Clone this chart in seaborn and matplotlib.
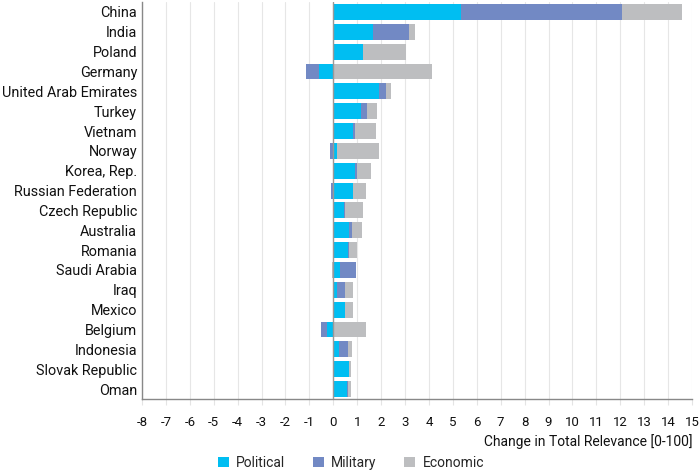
import numpy as np
import pandas as pd
import matplotlib
matplotlib.use("Agg")
import matplotlib.pyplot as plt
import seaborn as sns
from matplotlib.patches import Patch

countries = ["China", "India", "Poland", "Germany", "United Arab Emirates", "Turkey",
             "Vietnam", "Norway", "Korea, Rep.", "Russian Federation", "Czech Republic",
             "Australia", "Romania", "Saudi Arabia", "Iraq", "Mexico", "Belgium",
             "Indonesia", "Slovak Republic", "Oman"]
political = [5.35, 1.64, 1.24, -0.60, 1.91, 1.16, 0.81, 0.15, 0.91, 0.83, 0.46,
             0.66, 0.63, 0.28, 0.17, 0.50, -0.25, 0.25, 0.66, 0.56]
military = [6.73, 1.51, 0.02, -0.53, 0.30, 0.25, 0.10, -0.14, 0.08, -0.08, 0.01,
            0.12, 0.02, 0.68, 0.33, 0.00, -0.26, 0.36, 0.00, 0.07]
economic = [2.52, 0.25, 1.76, 4.13, 0.21, 0.43, 0.87, 1.76, 0.58, 0.55, 0.78,
            0.42, 0.36, -0.06, 0.32, 0.32, 1.36, 0.16, 0.06, 0.09]
series_names = ["Political", "Military", "Economic"]
colors = {"Political": "#00BEF2", "Military": "#7289C4", "Economic": "#BDBEC0"}

sns.set_theme(style="white")
plt.rcParams['font.family'] = ['Roboto', 'DejaVu Sans']

fig = plt.figure(figsize=(7.0, 4.72), dpi=100)
ax = fig.add_axes([142/700, 1 - 399/472, 550/700, 397/472])

df = pd.DataFrame({"country": countries, "Political": political,
                   "Military": military, "Economic": economic})
vals = df[series_names].to_numpy()
pos = np.clip(vals, 0, None).cumsum(axis=1)
neg = np.clip(vals, None, 0).cumsum(axis=1)

for i in [2, 1, 0]:
    name = series_names[i]
    for cum in (pos, neg):
        d = pd.DataFrame({"country": countries, "v": cum[:, i]})
        sns.barplot(data=d, x="v", y="country", order=countries, color=colors[name],
                    width=0.8, orient="h", errorbar=None, ax=ax, saturation=1,
                    edgecolor="none", linewidth=0, zorder=3)

ax.set_xlim(-8, 15)
ax.set_ylim(len(countries) - 0.5, -0.5)
ax.set_xticks(range(-8, 16))
ax.set_xticklabels([str(t) for t in range(-8, 16)], fontsize=9.5, color="#111111")
ax.tick_params(axis="x", length=4, width=0.8, color="#E4E4E4", pad=8, bottom=True)
ax.tick_params(axis="y", length=0, pad=3.5, labelsize=10.4, labelcolor="#111111")
ax.set_ylabel("")
ax.set_xlabel("")
ax.grid(axis="x", color="#E6E6E6", linewidth=0.8, zorder=0)
ax.set_axisbelow(True)
ax.axvline(0, color="#999999", linewidth=1.0, zorder=4)
for s in ["top", "right"]:
    ax.spines[s].set_visible(False)
for s in ["left", "bottom"]:
    ax.spines[s].set_color("#888888")
    ax.spines[s].set_linewidth(1.0)

fig.text(692/700, 1 - 442/472, "Change in Total Relevance [0-100]", ha="right",
         va="center", fontsize=10, color="#111111")

handles = [Patch(facecolor=colors[n], edgecolor="none", label=n) for n in series_names]
fig.legend(handles=handles, loc="center", bbox_to_anchor=(351/700, 1 - 463/472),
           ncol=3, frameon=False, fontsize=10, handlelength=0.8, handleheight=0.8,
           handletextpad=0.5, columnspacing=2.0)

fig.savefig("out.png", dpi=100)
